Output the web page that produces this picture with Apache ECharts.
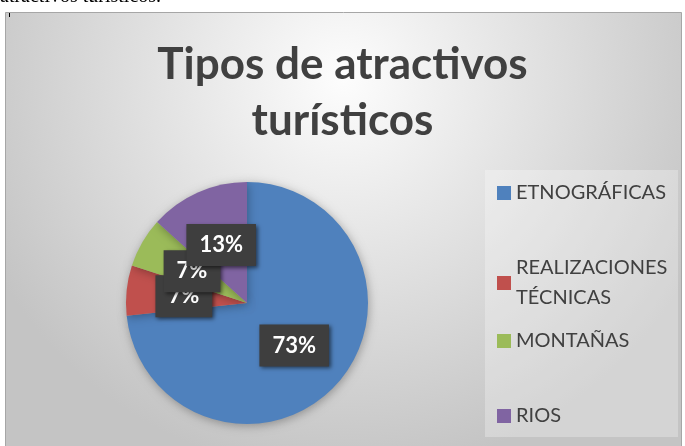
<!DOCTYPE html>
<html>
<head>
<meta charset="utf-8">
<script src="https://cdn.jsdelivr.net/npm/echarts@6/dist/echarts.min.js"></script>
<style>
  html, body { margin: 0; padding: 0; background: #fff; }
  #chart { width: 685px; height: 446px; }
</style>
</head>
<body>
<div id="chart"></div>
<script>
// datos del gráfico
var categories = ['ETNOGRÁFICAS', 'REALIZACIONES\nTÉCNICAS', 'MONTAÑAS', 'RIOS']
var values = [11, 1, 1, 2]
var colors = ['#4f81bd', '#c0504d', '#9bbb59', '#8064a2']
var legendTops = [178, 238, 326, 401]

var chart = echarts.init(document.getElementById('chart'))

var pieData = []
for (var i = 0; i < categories.length; i++) {
    pieData.push({ name: categories[i], value: values[i], itemStyle: { color: colors[i] } })
}

// una leyenda por elemento para fijar su posición
var legends = []
for (var j = 0; j < categories.length; j++) {
    var multi = categories[j].indexOf('\n') >= 0
    legends.push({
        data: [categories[j]],
        left: 497,
        top: legendTops[j],
        padding: 0,
        itemWidth: 14,
        itemHeight: 14,
        icon: 'rect',
        selectedMode: false,
        textStyle: {
            color: '#404040',
            fontFamily: 'Lato',
            fontSize: 20,
            lineHeight: 30,
            padding: multi ? [30, 0, 0, 0] : 0
        }
    })
}

var option = {
    animation: false,
    title: {
        text: 'Tipos de atractivos\nturísticos',
        left: 'center',
        top: 37,
        padding: [0, 0, 0, 15],
        textStyle: {
            color: '#404040',
            fontFamily: 'Lato',
            fontWeight: 'bold',
            fontSize: 44,
            lineHeight: 56
        }
    },
    graphic: [
        {
            type: 'rect', z: -10, silent: true,
            shape: { x: 5.5, y: 12.5, width: 676, height: 440 },
            style: {
                fill: {
                    type: 'radial', x: 0.5, y: 0.15, r: 0.9,
                    colorStops: [
                        { offset: 0, color: '#fdfdfd' },
                        { offset: 1, color: '#c4c4c4' }
                    ]
                },
                stroke: '#a6a6a6', lineWidth: 1
            }
        },
        {
            type: 'rect', z: -9, silent: true,
            shape: { x: 485, y: 170, width: 193, height: 267 },
            style: { fill: 'rgba(255,255,255,0.28)' }
        },
        {
            type: 'rect', z: -8, silent: true,
            shape: { x: 9, y: 13, width: 1, height: 4 },
            style: { fill: '#000' }
        },
        {
            type: 'text', z: -8, silent: true,
            x: 0, y: 7,
            style: {
                text: 'atractivos turísticos.',
                fill: '#000',
                font: '20px "Liberation Serif"',
                verticalAlign: 'bottom'
            }
        }
    ],
    legend: legends,
    series: [
        {
            type: 'pie',
            center: [247, 303],
            radius: [0, 121],
            startAngle: 90,
            clockwise: true,
            avoidLabelOverlap: false,
            labelLayout: { hideOverlap: false },
            data: pieData,
            itemStyle: {
                shadowBlur: 10,
                shadowColor: 'rgba(0,0,0,0.3)',
                shadowOffsetX: 1,
                shadowOffsetY: 2
            },
            label: {
                show: true,
                position: 'inside',
                formatter: function (p) { return Math.round(p.percent) + '%' },
                color: '#fff',
                fontFamily: 'Lato',
                fontWeight: 'bold',
                fontSize: 22,
                backgroundColor: '#3e3e3e',
                padding: [10, 13],
                shadowBlur: 4,
                shadowColor: 'rgba(0,0,0,0.55)',
                shadowOffsetX: 2,
                shadowOffsetY: 2
            },
            labelLine: { show: false },
            emphasis: { disabled: true }
        }
    ]
}

chart.setOption(option)
</script>
</body>
</html>
